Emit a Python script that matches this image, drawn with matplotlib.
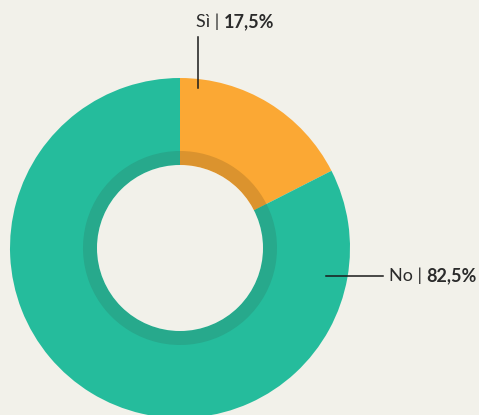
import matplotlib
matplotlib.use("Agg")
import matplotlib.pyplot as plt
from matplotlib.patches import Circle
from matplotlib import font_manager

labels = ["Sì", "No"]
values = [17.5, 82.5]
value_labels = ["17,5%", "82,5%"]
colors = ["#fba834", "#25bc9c"]
ring_colors = ["#db932e", "#27a98c"]
bg = "#f2f1ea"

W, H = 479, 415
fig = plt.figure(figsize=(W / 100, H / 100), dpi=100, facecolor=bg)
ax = fig.add_axes([0, 0, 1, 1])

cx, cy = 180, H - 248
R_out, R_ring, R_hole = 170, 97, 83

ax.pie(values, colors=colors, startangle=90, counterclock=False,
       radius=R_out, center=(cx, cy), frame=True,
       wedgeprops=dict(linewidth=0))
ax.pie(values, colors=ring_colors, startangle=90, counterclock=False,
       radius=R_ring, center=(cx, cy), frame=True,
       wedgeprops=dict(linewidth=0, width=R_ring - R_hole))
ax.add_patch(Circle((cx, cy), R_hole, color=bg, lw=0, zorder=5))
ax.set_xlim(0, W)
ax.set_ylim(0, H)
ax.set_aspect("equal")
ax.axis("off")

names = {f.name for f in font_manager.fontManager.ttflist}
font = "Liberation Sans Narrow" if "Liberation Sans Narrow" in names else "Lato"
fs = 15 if font != "Lato" else 13
tc = "#2b2b2b"

# leader lines
ax.plot([198, 198], [H - 37, H - 88], color="#1a1a1a", lw=1.1, zorder=6)
ax.plot([326, 383], [H - 276, H - 276], color="#1a1a1a", lw=1.1, zorder=6)


def label(x, y, name, val):
    t1 = ax.text(x, y, f"{name} | ", fontsize=fs, family=font, color=tc,
                 va="center", ha="left", zorder=7)
    fig.canvas.draw()
    bb = t1.get_window_extent()
    inv = ax.transData.inverted()
    x2 = inv.transform((bb.x1, bb.y0))[0]
    ax.text(x2, y, val, fontsize=fs, family=font, weight="bold", color=tc,
            va="center", ha="left", zorder=7)


label(196, H - 22, labels[0], value_labels[0])
label(389, H - 276, labels[1], value_labels[1])

fig.savefig("out.png", dpi=100, facecolor=bg)
